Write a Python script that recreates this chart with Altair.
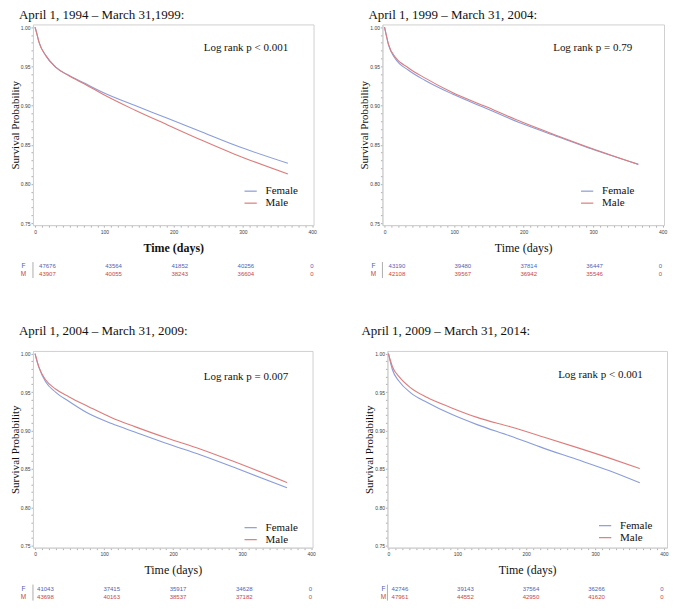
import altair as alt
import pandas as pd

SERIF = "Liberation Serif"
SANS = "Liberation Sans"
BLUE_LINE = "#8a9dd8"
RED_LINE = "#dd7c7c"
BLUE_TXT = "#5163b3"
RED_TXT = "#c54848"

titles = ["April 1, 1994 \u2013 March 31,1999:", "April 1, 1999 \u2013 March 31, 2004:",
          "April 1, 2004 \u2013 March 31, 2009:", "April 1, 2009 \u2013 March 31, 2014:"]
logrank = ["Log rank p < 0.001", "Log rank p = 0.79", "Log rank p = 0.007", "Log rank p < 0.001"]
xtitles = ["Time  (days)", "Time (days)", "Time (days)", "Time (days)"]
sexes = ["Female", "Male"]

# Panel 1: 1994-1999
p1_days = [0, 2.5, 5.7, 15.3, 29.7, 48.8, 72.7, 96.6, 144.5, 192, 240, 288, 365]
p1_female = [1.0, 0.992, 0.981, 0.964, 0.949, 0.9386, 0.928, 0.9174, 0.900, 0.8835, 0.8665, 0.8496, 0.8263]
p1_male = [1.0, 0.992, 0.981, 0.964, 0.949, 0.938, 0.927, 0.915, 0.894, 0.875, 0.856, 0.838, 0.8127]
# Panel 2: 1999-2004
p2_days = [0, 2.5, 5.8, 15.3, 34.5, 58.5, 96.9, 144.8, 197.6, 250.4, 298.3, 365]
p2_female = [1.0, 0.990, 0.977, 0.960, 0.945, 0.932, 0.915, 0.897, 0.877, 0.860, 0.8445, 0.825]
p2_male = [1.0, 0.990, 0.978, 0.962, 0.948, 0.935, 0.917, 0.899, 0.879, 0.861, 0.8453, 0.825]
# Panel 3: 2004-2009
p3_days = [0, 2.5, 5.7, 15.3, 29.7, 48.8, 77.5, 111, 144.5, 192, 240, 288, 365]
p3_female = [1.0, 0.991, 0.9817, 0.9634, 0.950, 0.938, 0.922, 0.909, 0.898, 0.8826, 0.868, 0.852, 0.8255]
p3_male = [1.0, 0.992, 0.9825, 0.966, 0.954, 0.944, 0.931, 0.9166, 0.905, 0.8898, 0.8755, 0.8595, 0.8323]
# Panel 4: 2009-2014
p4_days = [0, 2.5, 5.8, 15.4, 32.3, 56.4, 90, 128.7, 176.9, 225, 273, 321, 365]
p4_female = [1.0, 0.990, 0.979, 0.964, 0.949, 0.9364, 0.9216, 0.9076, 0.8928, 0.877, 0.8625, 0.8475, 0.8318]
p4_male = [1.0, 0.992, 0.983, 0.970, 0.9555, 0.9428, 0.930, 0.917, 0.9047, 0.8915, 0.878, 0.864, 0.8504]

risk_cols = [0, 100, 200, 300, 400]
p1_risk_f = ["47676", "43564", "41852", "40256", "0"]
p1_risk_m = ["43907", "40055", "38243", "36604", "0"]
p2_risk_f = ["43190", "39480", "37814", "36447", "0"]
p2_risk_m = ["42108", "39567", "36942", "35546", "0"]
p3_risk_f = ["41043", "37415", "35917", "34628", "0"]
p3_risk_m = ["43698", "40163", "38537", "37182", "0"]
p4_risk_f = ["42746", "39143", "37564", "36266", "0"]
p4_risk_m = ["47961", "44552", "42950", "41620", "0"]

x_ticks = list(range(0, 401, 10))
y_ticks = [round(0.75 + 0.01 * i, 2) for i in range(26)]


def panel(i, days, fem, male, rf, rm, w, h, title_dx, title_offset, lab_x,
          risk_range, legend_xy, lr_y, xt_weight, xdom):
    df = pd.DataFrame({
        "day": days + days,
        "surv": fem + male,
        "sex": ["Female"] * len(days) + ["Male"] * len(days),
    })
    x = alt.X("day:Q",
              scale=alt.Scale(domain=xdom, nice=False, zero=False),
              axis=alt.Axis(values=x_ticks, labelOverlap=False, labelPadding=2,
                            labelExpr="datum.value % 100 == 0 ? datum.label : ''",
                            title=xtitles[i], titleFontWeight=xt_weight,
                            titleFont=SERIF, titleFontSize=12, titlePadding=8,
                            titleColor="#111"))
    y = alt.Y("surv:Q",
              scale=alt.Scale(domain=[0.7475, 1.0035], nice=False, zero=False),
              axis=alt.Axis(values=y_ticks, labelOverlap=False, labelPadding=1,
                            labelExpr="(round(datum.value*100) % 5 == 0) ? format(datum.value, '.2f') : ''",
                            title="Survival Probability", titleFont=SERIF,
                            titleFontSize=11, titleFontWeight="normal",
                            titlePadding=0, titleColor="#111"))
    lines = alt.Chart(df).mark_line(strokeWidth=1.1, interpolate="monotone").encode(
        x=x, y=y,
        color=alt.Color("sex:N",
                        scale=alt.Scale(domain=sexes, range=[BLUE_LINE, RED_LINE]),
                        legend=alt.Legend(title=None, orient="none",
                                          legendX=legend_xy[0], legendY=legend_xy[1],
                                          symbolType="stroke", symbolSize=150,
                                          symbolStrokeWidth=1.2, labelFont=SERIF,
                                          labelFontSize=11, labelColor="#111",
                                          labelOffset=8, rowPadding=0, padding=0)),
    )
    lr = alt.Chart(pd.DataFrame({"t": [logrank[i]]})).mark_text(
        align="left", baseline="middle", font=SERIF, fontSize=11, color="#111"
    ).encode(x=alt.value(171), y=alt.value(lr_y), text="t:N")

    rx = alt.X("col:Q", scale=alt.Scale(domain=[0, 400], range=risk_range), axis=None)
    rf_layer = alt.Chart(pd.DataFrame({"col": risk_cols, "n": rf})).mark_text(
        font=SANS, fontSize=6, align="center", baseline="middle", color=BLUE_TXT
    ).encode(x=rx, y=alt.value(h + 41), text="n:N")
    rm_layer = alt.Chart(pd.DataFrame({"col": risk_cols, "n": rm})).mark_text(
        font=SANS, fontSize=6, align="center", baseline="middle", color=RED_TXT
    ).encode(x=rx, y=alt.value(h + 49), text="n:N")
    labs = alt.Chart(pd.DataFrame({"lab": ["F"]})).mark_text(
        font=SANS, fontSize=6.5, align="center", baseline="middle", color=BLUE_TXT
    ).encode(x=alt.value(lab_x), y=alt.value(h + 41), text="lab:N")
    labs2 = alt.Chart(pd.DataFrame({"lab": ["M"]})).mark_text(
        font=SANS, fontSize=6.5, align="center", baseline="middle", color=RED_TXT
    ).encode(x=alt.value(lab_x), y=alt.value(h + 49), text="lab:N")
    sep = alt.Chart(pd.DataFrame({"a": [0]})).mark_rule(color="#888", strokeWidth=0.7).encode(
        x=alt.value(0), y=alt.value(h + 37), y2=alt.value(h + 53))

    return alt.layer(lines, lr, rf_layer, rm_layer, labs, labs2, sep).resolve_scale(
        x="independent"
    ).properties(
        width=w, height=h,
        title=alt.TitleParams(titles[i], anchor="start", frame="group", dx=title_dx,
                              offset=title_offset, font=SERIF, fontSize=13,
                              fontWeight="normal", color="#111"),
    )


c1 = panel(0, p1_days, p1_female, p1_male, p1_risk_f, p1_risk_m, 281, 201, -14, 2, -9.5,
           [14.5, 279.5], (211, 160), 24, "bold", [-3, 402])
c2 = panel(1, p2_days, p2_female, p2_male, p2_risk_f, p2_risk_m, 282, 201, -14, 2, -9,
           [14.5, 278.5], (198, 160), 24, "normal", [-3, 402])
c3 = panel(2, p3_days, p3_female, p3_male, p3_risk_f, p3_risk_m, 280, 197, -14, 13, -9.5,
           [12.5, 278], (211, 170), 26, "normal", [-3, 402])
c4 = panel(3, p4_days, p4_female, p4_male, p4_risk_f, p4_risk_m, 280, 197, -26, 13, -4,
           [12.5, 275], (211, 168), 24.5, "normal", [-1.5, 404.5])

row1 = alt.hconcat(c1, c2, spacing=69, bounds="flush").resolve_scale(
    color="independent").resolve_legend(color="independent")
row2 = alt.hconcat(c3, c4, spacing=75, bounds="flush").resolve_scale(
    color="independent").resolve_legend(color="independent")

chart = alt.vconcat(row1, row2, spacing=45).resolve_scale(
    color="independent").resolve_legend(color="independent").properties(padding=0).configure_view(
    stroke="#d0d0d0", strokeWidth=1
).configure_axis(
    grid=False, tickSize=2, tickColor="#b0b0b0", domainColor="#d0d0d0",
    labelFont=SANS, labelFontSize=5, labelColor="#444",
)

chart.save("out.html", embed_options={"renderer": "svg", "actions": False})
